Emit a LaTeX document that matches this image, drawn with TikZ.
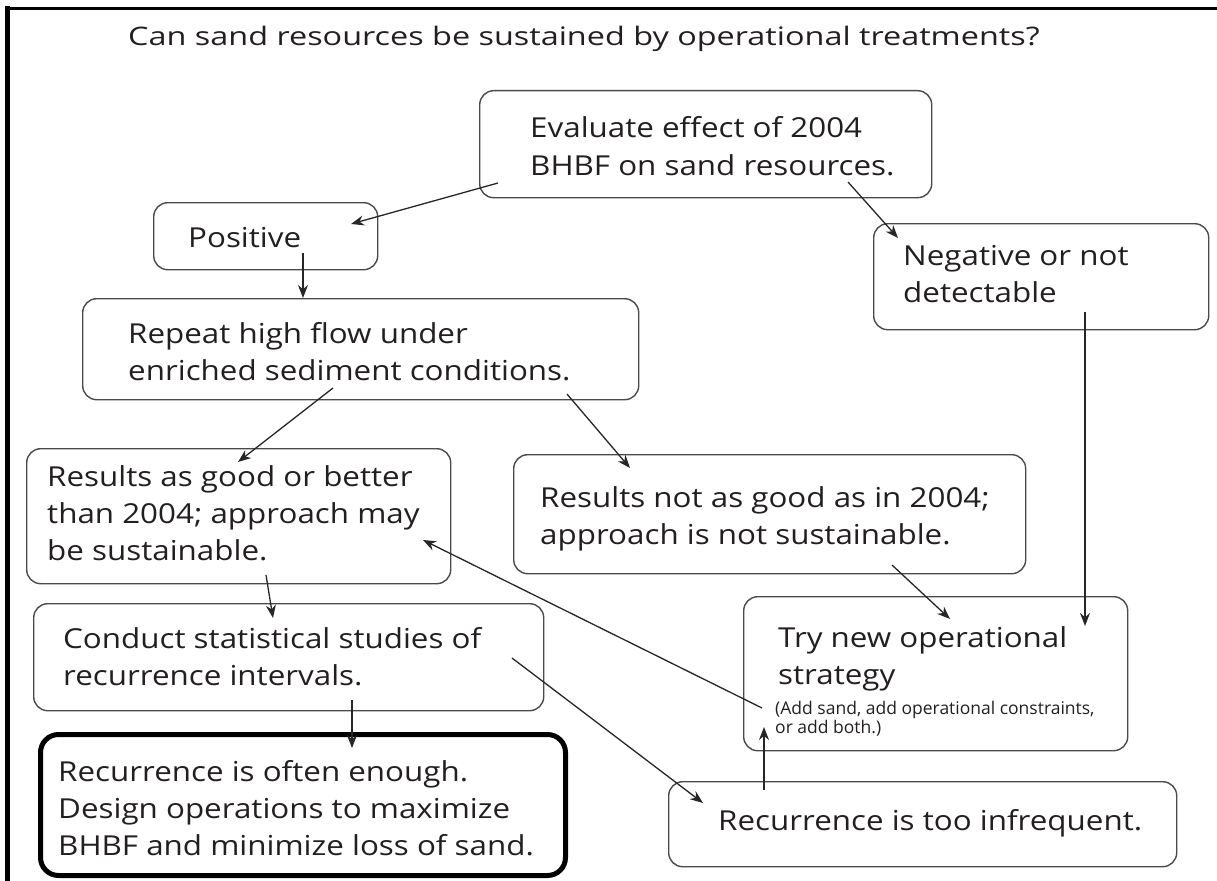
\documentclass[tikz,border=0pt]{standalone}
\usepackage{fontspec}
\setmainfont{Open Sans}
\newfontfamily\boxfont{Open Sans}[FakeStretch=1.14]
\newfontfamily\titlefont{Open Sans}[FakeStretch=1.27]
\usetikzlibrary{arrows.meta}
\definecolor{ink}{HTML}{231F20}
\definecolor{edge}{HTML}{4A4A4A}
\newcommand\txtlines[1]{\begin{tabular}[t]{@{}l@{}}#1\end{tabular}}
\tikzset{
  box/.style={draw=edge, line width=1.4pt, rounded corners=14pt, inner sep=0pt, anchor=north west},
  thickbox/.style={box, draw=black, line width=5pt, rounded corners=18pt},
  txt/.style={anchor=base west, inner sep=0pt, text=ink, font=\boxfont\fontsize{27.5}{37}\selectfont},
  smalltxt/.style={anchor=base west, inner sep=0pt, text=ink, font=\fontsize{17.5}{19}\selectfont},
  titletxt/.style={anchor=base west, inner sep=0pt, text=ink, font=\titlefont\fontsize{25.5}{30}\selectfont},
  arr/.style={-{Stealth[length=13pt,width=10pt]}, line width=1.3pt, draw=black!85},
  frame/.style={draw=black, line cap=rect}
}
\begin{document}
\begin{tikzpicture}[x=1pt,y=-1pt]
\useasboundingbox (0,0) rectangle (1217,880);
% outer frame (only top and left edges visible)
\draw[frame, line width=5pt] (7.5,900) -- (7.5,8.5);
\draw[frame, line width=3.5pt] (7.5,8.5) -- (1240,8.5);

\node[titletxt] (title) at (128,46) {Can sand resources be sustained by operational treatments?};

% boxes
\node[box, minimum width=452pt, minimum height=107pt] (eval) at (479,90) {};
\node[box, minimum width=224pt, minimum height=67pt] (pos) at (153,202) {};
\node[box, minimum width=335pt, minimum height=106pt] (neg) at (873,223) {};
\node[box, minimum width=556pt, minimum height=101pt] (rep) at (82,298) {};
\node[box, minimum width=424pt, minimum height=135pt] (good) at (26,448) {};
\node[box, minimum width=512pt, minimum height=119pt] (notgood) at (513,454) {};
\node[box, minimum width=384pt, minimum height=154pt] (try) at (743,596) {};
\node[box, minimum width=510pt, minimum height=107pt] (cond) at (33,603) {};
\node[thickbox, minimum width=525pt, minimum height=141pt] (often) at (38,732) {};
\node[box, minimum width=508pt, minimum height=85pt] (infreq) at (668,781) {};

% texts
\node[txt] (t-eval) at (530,138) {\txtlines{Evaluate effect of 2004\\BHBF on sand resources.}};
\node[txt] (t-pos) at (188,247) {Positive};
\node[txt] (t-neg) at (903,265) {\txtlines{Negative or not\\detectable}};
\node[txt] (t-rep) at (128,343) {\txtlines{Repeat high flow under\\enriched sediment conditions.}};
\node[txt] (t-good) at (47,486) {\txtlines{Results as good or better\\than 2004; approach may\\be sustainable.}};
\node[txt] (t-not) at (540,507) {\txtlines{Results not as good as in 2004;\\approach is not sustainable.}};
\node[txt] (t-try) at (778,647) {\txtlines{Try new operational\\strategy}};
\node[smalltxt] (t-trysmall) at (775,714) {\txtlines{(Add sand, add operational constraints,\\or add both.)}};
\node[txt] (t-cond) at (63,648) {\txtlines{Conduct statistical studies of\\recurrence intervals.}};
\node[txt] (t-often) at (58,781) {\txtlines{Recurrence is often enough.\\Design operations to maximize\\BHBF and minimize loss of sand.}};
\node[txt] (t-infreq) at (718,830) {Recurrence is too infrequent.};

% connector end points
\coordinate (a1s) at (498,183);  \coordinate (a1e) at (351,224);
\coordinate (a2s) at (848,182);  \coordinate (a2e) at (898,238);
\coordinate (a3s) at (303,253);  \coordinate (a3e) at (303,298);
\coordinate (a4s) at (333,388);  \coordinate (a4e) at (238,462);
\coordinate (a5s) at (567,394);  \coordinate (a5e) at (630,468);
\coordinate (a6s) at (892,565);  \coordinate (a6e) at (950,619);
\coordinate (a7s) at (1085,312); \coordinate (a7e) at (1085,626);
\coordinate (a8s) at (762,708);  \coordinate (a8e) at (423,540);
\coordinate (a9s) at (266,575);  \coordinate (a9e) at (273,618);
\coordinate (a10s) at (352,700); \coordinate (a10e) at (352,748);
\coordinate (a11s) at (512,658); \coordinate (a11e) at (703,803);
\coordinate (a12s) at (764,790); \coordinate (a12e) at (764,727);

\draw[arr] (a1s) -- (a1e);
\draw[arr] (a2s) -- (a2e);
\draw[arr] (a3s) -- (a3e);
\draw[arr] (a4s) -- (a4e);
\draw[arr] (a5s) -- (a5e);
\draw[arr] (a6s) -- (a6e);
\draw[arr] (a7s) -- (a7e);
\draw[arr] (a8s) -- (a8e);
\draw[arr] (a9s) -- (a9e);
\draw[arr] (a10s) -- (a10e);
\draw[arr] (a11s) -- (a11e);
\draw[arr] (a12s) -- (a12e);
\end{tikzpicture}
\end{document}
